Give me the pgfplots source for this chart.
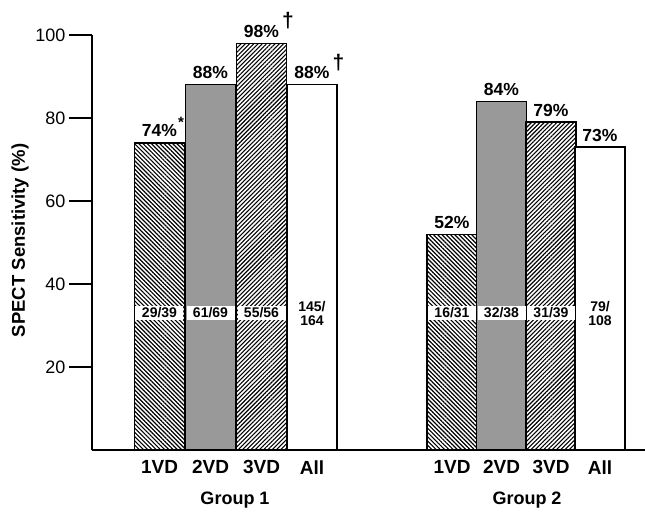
\documentclass[border=0pt]{standalone}
\usepackage{pgfplots}
\pgfplotsset{compat=1.18}
\usepackage{fontspec}
\setmainfont{Liberation Sans}
\usetikzlibrary{patterns,patterns.meta}
\newcommand{\dg}{\rlap{\hspace{3pt}\raisebox{0.55em}{\fontsize{21}{21}\selectfont †}}}
\newcommand{\astmark}{\rlap{\hspace{1pt}\raisebox{0.55em}{\fontsize{15}{15}\selectfont *}}}
\tikzset{
  bar labels/.style={font=\bfseries\fontsize{17.5}{17.5}\selectfont, anchor=base, yshift=6pt},
  frac labels/.style={font=\bfseries\fontsize{14}{14}\selectfont, fill=white, minimum width=48pt, inner sep=1.5pt, align=center},
}
\begin{document}
\begin{tikzpicture}
\useasboundingbox (-92pt,-64pt) rectangle (553pt,450pt);
\begin{axis}[
  at={(0pt,0pt)}, anchor=south west,
  scale only axis, width=553pt, height=415pt,
  xmin=92, xmax=645, ymin=0, ymax=100,
  axis lines=left, axis line style={-, line width=1.6pt},
  clip=false,
  ytick={20,40,60,80,100},
  ytick style={line width=1.4pt, black},
  major tick length=23pt, tick align=outside,
  yticklabel style={font=\fontsize{18}{18}\selectfont, /pgf/number format/assume math mode=true},
  xtick={159.5,210.5,261.5,312,452,501.5,551,600},
  xticklabels={1VD,2VD,3VD,All,1VD,2VD,3VD,All},
  xtick style={draw=none},
  xticklabel style={font=\bfseries\fontsize{19}{19}\selectfont, yshift=16pt},
]
\addplot[ybar, bar width=50, bar shift=0pt, draw=black, line width=1.3pt,
  pattern={Lines[angle=-45,distance=3pt,line width=1.2pt]}]
  coordinates {(159.5,74) (452,52)};
\addplot[ybar, bar width=50, bar shift=0pt, draw=black, line width=1.3pt,
  fill=black!40]
  coordinates {(210.5,88) (501.5,84)};
\addplot[ybar, bar width=50, bar shift=0pt, draw=black, line width=1.3pt,
  pattern={Lines[angle=45,distance=3pt,line width=1.1pt]}]
  coordinates {(261.5,98) (551,79)};
\addplot[ybar, bar width=50, bar shift=0pt, draw=black, line width=1.3pt,
  fill=white]
  coordinates {(312,88) (600,73)};

\node[bar labels] at (axis cs:159.5,74) {74\%\astmark};
\node[bar labels] at (axis cs:210.5,88) {88\%};
\node[bar labels] at (axis cs:261.5,98) {98\%\dg};
\node[bar labels] at (axis cs:312,88) {88\%\dg};
\node[bar labels] at (axis cs:452,52) {52\%};
\node[bar labels] at (axis cs:501.5,84) {84\%};
\node[bar labels] at (axis cs:551,79) {79\%};
\node[bar labels] at (axis cs:600,73) {73\%};

\node[frac labels] at (axis cs:159.5,33) {29/39};
\node[frac labels] at (axis cs:210.5,33) {61/69};
\node[frac labels] at (axis cs:261.5,33) {55/56};
\node[frac labels, fill=none] at (axis cs:312,33) {145/\\164};
\node[frac labels] at (axis cs:452,33) {16/31};
\node[frac labels] at (axis cs:501.5,33) {32/38};
\node[frac labels] at (axis cs:551,33) {31/39};
\node[frac labels, fill=none] at (axis cs:600,33) {79/\\108};

\node[font=\bfseries\fontsize{18}{18}\selectfont] at (axis cs:235,-12.0) {Group 1};
\node[font=\bfseries\fontsize{18}{18}\selectfont] at (axis cs:527,-12.0) {Group 2};
\node[font=\bfseries\fontsize{18.5}{18.5}\selectfont, rotate=90] at (axis cs:20,50.5) {SPECT Sensitivity (\%)};
\end{axis}
\end{tikzpicture}
\end{document}
